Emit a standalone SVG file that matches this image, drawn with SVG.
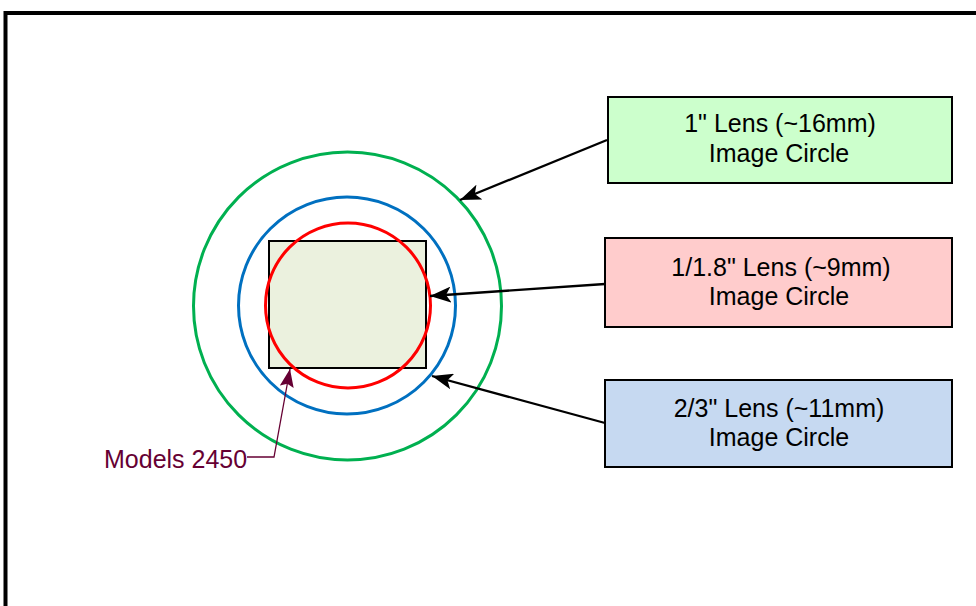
<svg xmlns="http://www.w3.org/2000/svg" width="976" height="606" viewBox="0 0 976 606">
<defs>
<style>
.frame{fill:none;stroke:#000;stroke-width:4}
.box{stroke:#000;stroke-width:2}
.lbl{font-family:"Liberation Sans",Arial,sans-serif;font-size:25px;fill:#000;text-anchor:middle}
.ring{fill:none;stroke-width:3}
.conn{fill:none;stroke:#000;stroke-width:2.3}
.lead{fill:none;stroke:#660033;stroke-width:1.3}
</style>
<marker id="ah" markerWidth="22" markerHeight="16" viewBox="0 0 22 16" refX="21" refY="8" orient="auto" markerUnits="userSpaceOnUse">
<path d="M0,0 L21,8 L0,16 L5,8 z" fill="#000"/>
</marker>
<marker id="ahm" markerWidth="20" markerHeight="14" viewBox="0 0 20 14" refX="18" refY="7" orient="auto" markerUnits="userSpaceOnUse">
<path d="M0,0 L18,7 L0,14 L3,7 z" fill="#660033"/>
</marker>
</defs>
<rect width="976" height="606" fill="#fff"/>
<rect class="frame" x="5.5" y="13" width="1000" height="700"/>
<g id="sensor">
<rect x="269" y="241" width="157" height="127" fill="#ebf1de" stroke="#000" stroke-width="2"/>
</g>
<g id="circle-1in">
<circle class="ring" cx="347.5" cy="306" r="154" stroke="#00b050"/>
</g>
<g id="circle-23in">
<circle class="ring" cx="347" cy="305.5" r="108.5" stroke="#0070c0"/>
</g>
<g id="circle-118in">
<circle class="ring" cx="348" cy="305.5" r="82.5" stroke="#ff0000"/>
</g>
<g id="box-1in">
<rect class="box" x="608" y="97" width="344" height="86" fill="#ccffcc"/>
<text class="lbl" x="780" y="132">1" Lens (~16mm)</text>
<text class="lbl" x="779" y="162">Image Circle</text>
</g>
<g id="box-118in">
<rect class="box" x="605" y="238" width="347" height="89" fill="#ffcccc"/>
<text class="lbl" x="781" y="276">1/1.8" Lens (~9mm)</text>
<text class="lbl" x="779" y="305">Image Circle</text>
</g>
<g id="box-23in">
<rect class="box" x="605" y="380" width="347" height="87" fill="#c6d9f1"/>
<text class="lbl" x="779" y="417">2/3" Lens (~11mm)</text>
<text class="lbl" x="779" y="446">Image Circle</text>
</g>
<g id="label-models">
<text x="104" y="468" font-family="Liberation Sans, Arial, sans-serif" font-size="25" fill="#660033">Models 2450</text>
</g>
<g id="connectors">
<line class="conn" x1="607" y1="140" x2="460" y2="200" marker-end="url(#ah)"/>
<line class="conn" x1="605" y1="284" x2="430" y2="296" marker-end="url(#ah)"/>
<line class="conn" x1="605" y1="423" x2="432" y2="376" marker-end="url(#ah)"/>
<path class="lead" d="M247,457 L274,457 L290,369" marker-end="url(#ahm)"/>
</g>
</svg>
